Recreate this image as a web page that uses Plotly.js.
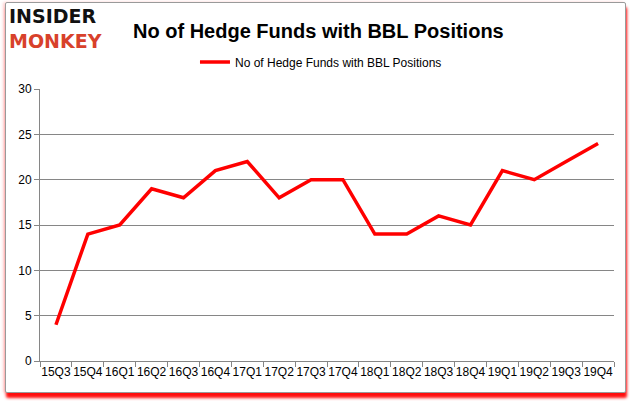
<!DOCTYPE html>
<html>
<head>
<meta charset="utf-8">
<script src="https://cdn.plot.ly/plotly-3.0.1.min.js"></script>
<style>
  html, body { margin: 0; padding: 0; background: #fff; }
  #wrap { position: relative; width: 635px; height: 405px; overflow: hidden; background: #fff; }
  #frame { position: absolute; left: 5px; top: 2px; width: 619px; height: 389px;
           border: 1px solid #9a9a9a; border-radius: 2px;
           box-shadow: 1px 5px 3px rgba(255,0,0,0.95), -2px 0 3px rgba(255,120,120,0.35); background: #fff; }
  #chart { position: absolute; left: 0; top: 0; width: 635px; height: 405px; }
</style>
</head>
<body>
<div id="wrap">
  <div id="frame"></div>
  <div id="chart"></div>
</div>
<script>
const quarters = ["15Q3","15Q4","16Q1","16Q2","16Q3","16Q4","17Q1","17Q2","17Q3","17Q4","18Q1","18Q2","18Q3","18Q4","19Q1","19Q2","19Q3","19Q4"];
const hedgeFunds = [4,14,15,19,18,21,22,18,20,20,14,14,16,15,21,20,22,24];
const seriesName = "No of Hedge Funds with BBL Positions";
const chartTitle = "No of Hedge Funds with BBL Positions";
const yTicks = [0,5,10,15,20,25,30];

const baseFont = "Liberation Sans, Arial, sans-serif";

const trace = {
  x: quarters,
  y: hedgeFunds,
  type: "scatter",
  mode: "lines",
  name: seriesName,
  line: { color: "#ff0000", width: 3.5 }
};

const layout = {
  width: 635,
  height: 405,
  paper_bgcolor: "rgba(0,0,0,0)",
  plot_bgcolor: "rgba(0,0,0,0)",
  margin: { l: 40, r: 21, t: 89, b: 44 },
  font: { family: baseFont, size: 12, color: "#000" },
  showlegend: true,
  legend: {
    orientation: "h",
    x: 0.27, y: 1.099, xanchor: "left", yanchor: "middle",
    font: { family: baseFont, size: 12, color: "#000" },
    bgcolor: "rgba(0,0,0,0)"
  },
  xaxis: {
    type: "category",
    range: [-0.5, quarters.length - 0.5],
    tickson: "boundaries",
    ticks: "outside",
    ticklen: 5,
    tickcolor: "#868686",
    showline: true,
    linecolor: "#868686",
    linewidth: 1,
    showgrid: false,
    zeroline: false,
    tickangle: 0,
    tickfont: { family: baseFont, size: 12, color: "#000" },
    fixedrange: true
  },
  yaxis: {
    range: [0, 30],
    tickvals: yTicks,
    ticktext: yTicks.map(String),
    ticks: "outside",
    ticklen: 5,
    tickcolor: "#868686",
    showline: true,
    linecolor: "#868686",
    showgrid: true,
    gridcolor: "#868686",
    gridwidth: 1,
    zeroline: false,
    tickfont: { family: baseFont, size: 12, color: "#000" },
    fixedrange: true
  },
  annotations: [
    {
      text: "<b>" + chartTitle + "</b>",
      xref: "paper", yref: "paper",
      x: (318 - 40) / 574, y: (361 - 31) / 272,
      xanchor: "center", yanchor: "middle",
      showarrow: false,
      font: { family: baseFont, size: 20, color: "#000" }
    },
    {
      text: "<b><span style='color:#111'>INSIDER</span><br><span style='color:#d8412b'>MONKEY</span></b>",
      xref: "paper", yref: "paper",
      x: (7 - 40) / 574, y: (361 - 29) / 272,
      xanchor: "left", yanchor: "middle",
      align: "left",
      showarrow: false,
      font: { family: "DejaVu Sans, Liberation Sans, sans-serif", size: 19, color: "#111" }
    }
  ]
};

Plotly.newPlot("chart", [trace], layout, { displayModeBar: false, staticPlot: true });
</script>
</body>
</html>
